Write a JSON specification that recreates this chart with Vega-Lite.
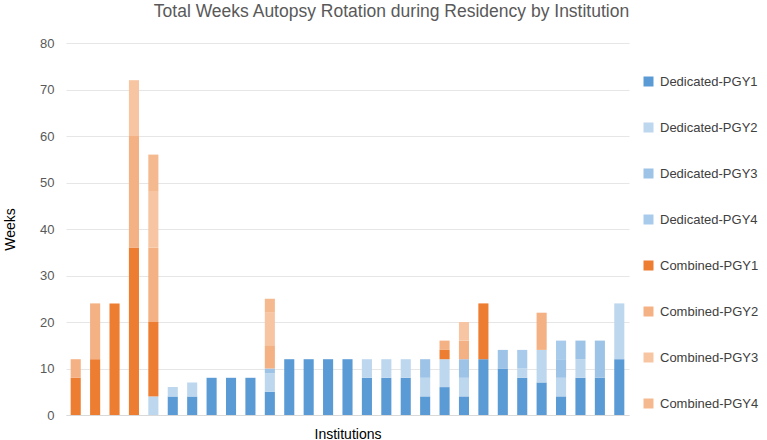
{
  "$schema": "https://vega.github.io/schema/vega-lite/v6.json",
  "autosize": {"type": "none"},
  "width": 563,
  "height": 372,
  "padding": {"left": 66, "top": 43, "right": 138, "bottom": 25},
  "background": "white",
  "config": {
    "font": "Liberation Sans",
    "view": {"stroke": null},
    "axis": {"labelFont": "Liberation Sans", "titleFont": "Liberation Sans"}
  },
  "title": {
    "text": "Total Weeks Autopsy Rotation during Residency by Institution",
    "fontSize": 17.5,
    "fontWeight": "normal",
    "color": "#595959",
    "anchor": "middle",
    "frame": "group",
    "dx": 44,
    "offset": 17
  },
  "data": {
    "values": [
      {"inst": 1, "series": "Combined-PGY1", "k": 5, "weeks": 8},
      {"inst": 1, "series": "Combined-PGY2", "k": 6, "weeks": 4},
      {"inst": 2, "series": "Combined-PGY1", "k": 5, "weeks": 12},
      {"inst": 2, "series": "Combined-PGY2", "k": 6, "weeks": 12},
      {"inst": 3, "series": "Combined-PGY1", "k": 5, "weeks": 24},
      {"inst": 4, "series": "Combined-PGY1", "k": 5, "weeks": 36},
      {"inst": 4, "series": "Combined-PGY2", "k": 6, "weeks": 24},
      {"inst": 4, "series": "Combined-PGY3", "k": 7, "weeks": 12},
      {"inst": 5, "series": "Dedicated-PGY2", "k": 2, "weeks": 4},
      {"inst": 5, "series": "Combined-PGY1", "k": 5, "weeks": 16},
      {"inst": 5, "series": "Combined-PGY2", "k": 6, "weeks": 16},
      {"inst": 5, "series": "Combined-PGY3", "k": 7, "weeks": 12},
      {"inst": 5, "series": "Combined-PGY4", "k": 8, "weeks": 8},
      {"inst": 6, "series": "Dedicated-PGY1", "k": 1, "weeks": 4},
      {"inst": 6, "series": "Dedicated-PGY2", "k": 2, "weeks": 2},
      {"inst": 7, "series": "Dedicated-PGY1", "k": 1, "weeks": 4},
      {"inst": 7, "series": "Dedicated-PGY2", "k": 2, "weeks": 3},
      {"inst": 8, "series": "Dedicated-PGY1", "k": 1, "weeks": 8},
      {"inst": 9, "series": "Dedicated-PGY1", "k": 1, "weeks": 8},
      {"inst": 10, "series": "Dedicated-PGY1", "k": 1, "weeks": 8},
      {"inst": 11, "series": "Dedicated-PGY1", "k": 1, "weeks": 5},
      {"inst": 11, "series": "Dedicated-PGY2", "k": 2, "weeks": 4},
      {"inst": 11, "series": "Dedicated-PGY3", "k": 3, "weeks": 1},
      {"inst": 11, "series": "Combined-PGY2", "k": 6, "weeks": 5},
      {"inst": 11, "series": "Combined-PGY3", "k": 7, "weeks": 7},
      {"inst": 11, "series": "Combined-PGY4", "k": 8, "weeks": 3},
      {"inst": 12, "series": "Dedicated-PGY1", "k": 1, "weeks": 12},
      {"inst": 13, "series": "Dedicated-PGY1", "k": 1, "weeks": 12},
      {"inst": 14, "series": "Dedicated-PGY1", "k": 1, "weeks": 12},
      {"inst": 15, "series": "Dedicated-PGY1", "k": 1, "weeks": 12},
      {"inst": 16, "series": "Dedicated-PGY1", "k": 1, "weeks": 8},
      {"inst": 16, "series": "Dedicated-PGY2", "k": 2, "weeks": 4},
      {"inst": 17, "series": "Dedicated-PGY1", "k": 1, "weeks": 8},
      {"inst": 17, "series": "Dedicated-PGY2", "k": 2, "weeks": 4},
      {"inst": 18, "series": "Dedicated-PGY1", "k": 1, "weeks": 8},
      {"inst": 18, "series": "Dedicated-PGY2", "k": 2, "weeks": 4},
      {"inst": 19, "series": "Dedicated-PGY1", "k": 1, "weeks": 4},
      {"inst": 19, "series": "Dedicated-PGY2", "k": 2, "weeks": 4},
      {"inst": 19, "series": "Dedicated-PGY3", "k": 3, "weeks": 4},
      {"inst": 20, "series": "Dedicated-PGY1", "k": 1, "weeks": 6},
      {"inst": 20, "series": "Dedicated-PGY2", "k": 2, "weeks": 6},
      {"inst": 20, "series": "Combined-PGY1", "k": 5, "weeks": 2},
      {"inst": 20, "series": "Combined-PGY2", "k": 6, "weeks": 2},
      {"inst": 21, "series": "Dedicated-PGY1", "k": 1, "weeks": 4},
      {"inst": 21, "series": "Dedicated-PGY2", "k": 2, "weeks": 4},
      {"inst": 21, "series": "Dedicated-PGY3", "k": 3, "weeks": 4},
      {"inst": 21, "series": "Combined-PGY2", "k": 6, "weeks": 4},
      {"inst": 21, "series": "Combined-PGY3", "k": 7, "weeks": 4},
      {"inst": 22, "series": "Dedicated-PGY1", "k": 1, "weeks": 12},
      {"inst": 22, "series": "Combined-PGY1", "k": 5, "weeks": 12},
      {"inst": 23, "series": "Dedicated-PGY1", "k": 1, "weeks": 10},
      {"inst": 23, "series": "Dedicated-PGY3", "k": 3, "weeks": 4},
      {"inst": 24, "series": "Dedicated-PGY1", "k": 1, "weeks": 8},
      {"inst": 24, "series": "Dedicated-PGY2", "k": 2, "weeks": 2},
      {"inst": 24, "series": "Dedicated-PGY4", "k": 4, "weeks": 4},
      {"inst": 25, "series": "Dedicated-PGY1", "k": 1, "weeks": 7},
      {"inst": 25, "series": "Dedicated-PGY2", "k": 2, "weeks": 7},
      {"inst": 25, "series": "Combined-PGY2", "k": 6, "weeks": 8},
      {"inst": 26, "series": "Dedicated-PGY1", "k": 1, "weeks": 4},
      {"inst": 26, "series": "Dedicated-PGY2", "k": 2, "weeks": 4},
      {"inst": 26, "series": "Dedicated-PGY3", "k": 3, "weeks": 4},
      {"inst": 26, "series": "Dedicated-PGY4", "k": 4, "weeks": 4},
      {"inst": 27, "series": "Dedicated-PGY1", "k": 1, "weeks": 8},
      {"inst": 27, "series": "Dedicated-PGY2", "k": 2, "weeks": 4},
      {"inst": 27, "series": "Dedicated-PGY3", "k": 3, "weeks": 4},
      {"inst": 28, "series": "Dedicated-PGY1", "k": 1, "weeks": 8},
      {"inst": 28, "series": "Dedicated-PGY3", "k": 3, "weeks": 8},
      {"inst": 29, "series": "Dedicated-PGY1", "k": 1, "weeks": 12},
      {"inst": 29, "series": "Dedicated-PGY2", "k": 2, "weeks": 12}
    ]
  },
  "mark": {"type": "bar"},
  "encoding": {
    "x": {
      "field": "inst",
      "type": "ordinal",
      "scale": {"paddingInner": 0.48, "paddingOuter": 0.24},
      "axis": {
        "title": "Institutions",
        "labels": false,
        "ticks": false,
        "domainColor": "#d9d9d9",
        "titleFontSize": 14,
        "titleFontWeight": "normal",
        "titleColor": "#000000",
        "titlePadding": 12
      }
    },
    "y": {
      "field": "weeks",
      "type": "quantitative",
      "aggregate": "sum",
      "scale": {"domain": [0, 80], "nice": false},
      "axis": {
        "title": "Weeks",
        "values": [0, 10, 20, 30, 40, 50, 60, 70, 80],
        "domain": false,
        "ticks": false,
        "labelPadding": 12,
        "labelFontSize": 13,
        "labelColor": "#595959",
        "gridColor": "#e6e6e6",
        "titleFontSize": 14,
        "titleFontWeight": "normal",
        "titleColor": "#000000",
        "titlePadding": 22
      }
    },
    "color": {
      "field": "series",
      "type": "nominal",
      "scale": {
        "domain": ["Dedicated-PGY1", "Dedicated-PGY2", "Dedicated-PGY3", "Dedicated-PGY4", "Combined-PGY1", "Combined-PGY2", "Combined-PGY3", "Combined-PGY4"],
        "range": ["#5b9bd5", "#bdd7ee", "#9dc3e6", "#a9cbeb", "#ed7d31", "#f4b183", "#f7c5a2", "#f5b98f"]
      },
      "legend": {
        "title": null,
        "orient": "none",
        "legendX": 576,
        "legendY": 32,
        "symbolType": "square",
        "symbolSize": 100,
        "symbolStrokeWidth": 0,
        "labelFontSize": 13,
        "labelColor": "#404040",
        "labelOffset": 5,
        "rowPadding": 32
      }
    },
    "order": {"field": "k", "type": "quantitative", "sort": "ascending"}
  }
}
